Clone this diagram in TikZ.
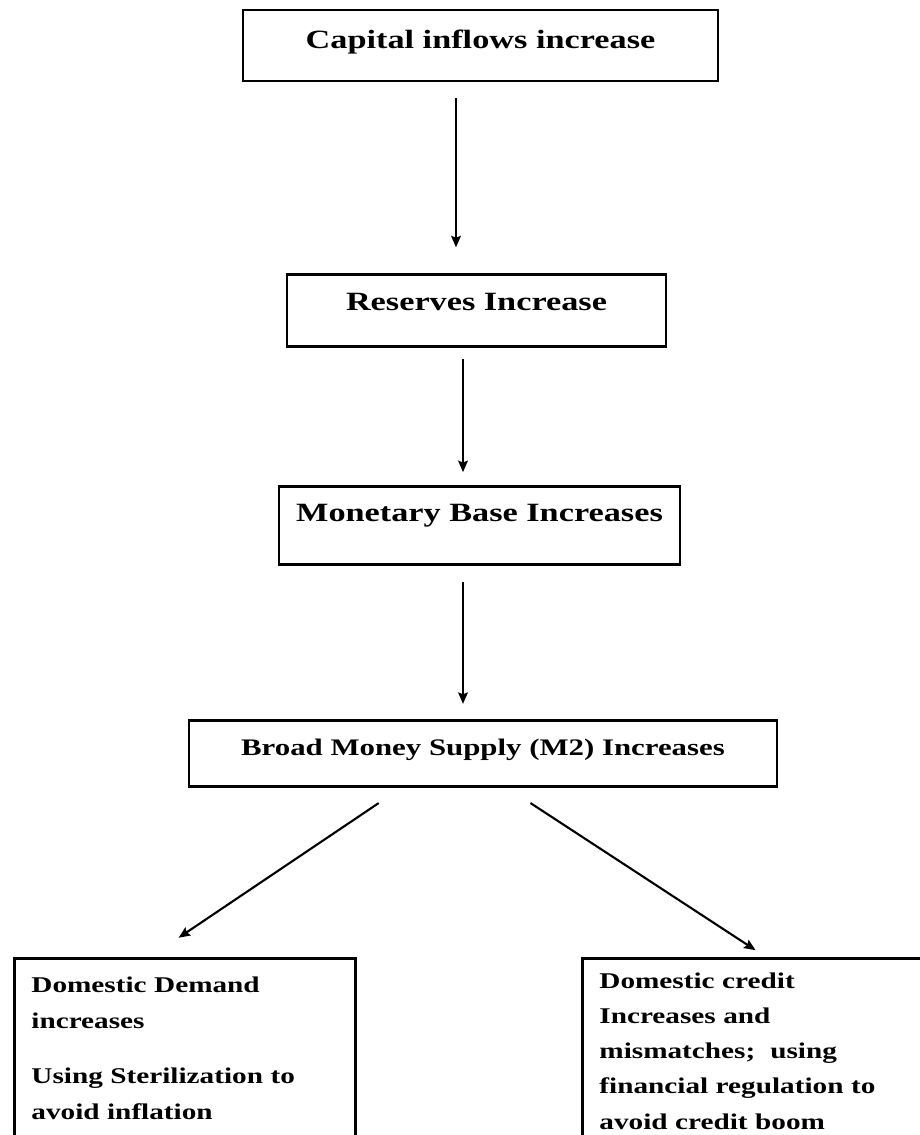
\documentclass[tikz,border=0pt]{standalone}
\usepackage{fontspec}
\setmainfont{Liberation Serif}[FakeStretch=1.3]
\usepackage{tikz}
\usetikzlibrary{arrows.meta}
\usetikzlibrary{positioning}
\usepackage{xcolor}

% boxes of the chain and of the two outcomes
\tikzset{
 stage/.style={draw, rectangle, line width=1.6pt, inner sep=0pt, align=center,
  font=\bfseries\fontsize{15}{18}\selectfont},
 outcome/.style={draw, rectangle, line width=1.6pt, anchor=north west, align=left,
  inner xsep=0.34cm, inner ysep=0.36cm,
  font=\bfseries\fontsize{12.8}{20.5}\selectfont},
 flow/.style={->, line width=1.2pt}
}

\begin{document}
\begin{tikzpicture}[>={Stealth[length=6.5pt,width=5.5pt,inset=1pt]}, x=0.02cm, y=0.02cm]

 % page size of the reference
 \useasboundingbox (0,0) rectangle (919,-1135);

 % the chain, top to bottom
 \node[stage, minimum width=9.5cm, minimum height=1.42cm, text depth=6.7pt]
  (CapInflow) at (480.5,-45.5) {Capital inflows increase};

 \node[stage, below=3.82cm of CapInflow, xshift=-0.08cm,
  minimum width=7.58cm, minimum height=1.44cm, text depth=10pt]
  (ResInc) {Reserves Increase};

 \node[stage, below=2.74cm of ResInc, xshift=0.06cm,
  minimum width=8.02cm, minimum height=1.56cm, text depth=14.7pt]
  (MonBase) {Monetary Base Increases};

 \node[stage, below=3.06cm of MonBase, xshift=0.07cm,
  minimum width=11.76cm, minimum height=1.32cm, text depth=6.7pt,
  font=\bfseries\fontsize{13.5}{16}\selectfont]
  (BroadMoney) {Broad Money Supply (M2) Increases};

 % the two outcomes (cut by the page edge)
 \node[outcome, text width=6.14cm] (DomDemand) at (13,-957)
 {Domestic Demand\\
  increases\\[0.38cm]
  Using Sterilization to\\
  avoid inflation\\[0.6cm]\strut};

 \node[outcome, text width=6.4cm, inner ysep=0.29cm,
  font=\bfseries\fontsize{12.8}{20}\selectfont] (DomCredit) at (581,-957)
 {Domestic credit\\
  Increases and\\
  mismatches;\ \ using\\
  financial regulation to\\
  avoid credit boom\\[0.3cm]\strut};

 % arrows
 \draw[flow, shorten <=0.32cm, shorten >=0.52cm]
  (CapInflow.south -| 456,0) -- (ResInc.north -| 456,0);
 \draw[flow, shorten <=0.22cm, shorten >=0.26cm]
  (ResInc.south -| 463,0) -- (MonBase.north -| 463,0);
 \draw[flow, shorten <=0.32cm, shorten >=0.3cm]
  (MonBase.south -| 463,0) -- (BroadMoney.north -| 463,0);
 \draw[flow, shorten <=0.55cm, shorten >=0.69cm]
  (BroadMoney.south -| 401.5,0) -- (DomDemand.north -| 150,0);
 \draw[flow, shorten <=0.56cm, shorten >=0.25cm]
  (BroadMoney.south -| 507,0) -- (DomCredit.north -| 766,0);

\end{tikzpicture}
\end{document}
